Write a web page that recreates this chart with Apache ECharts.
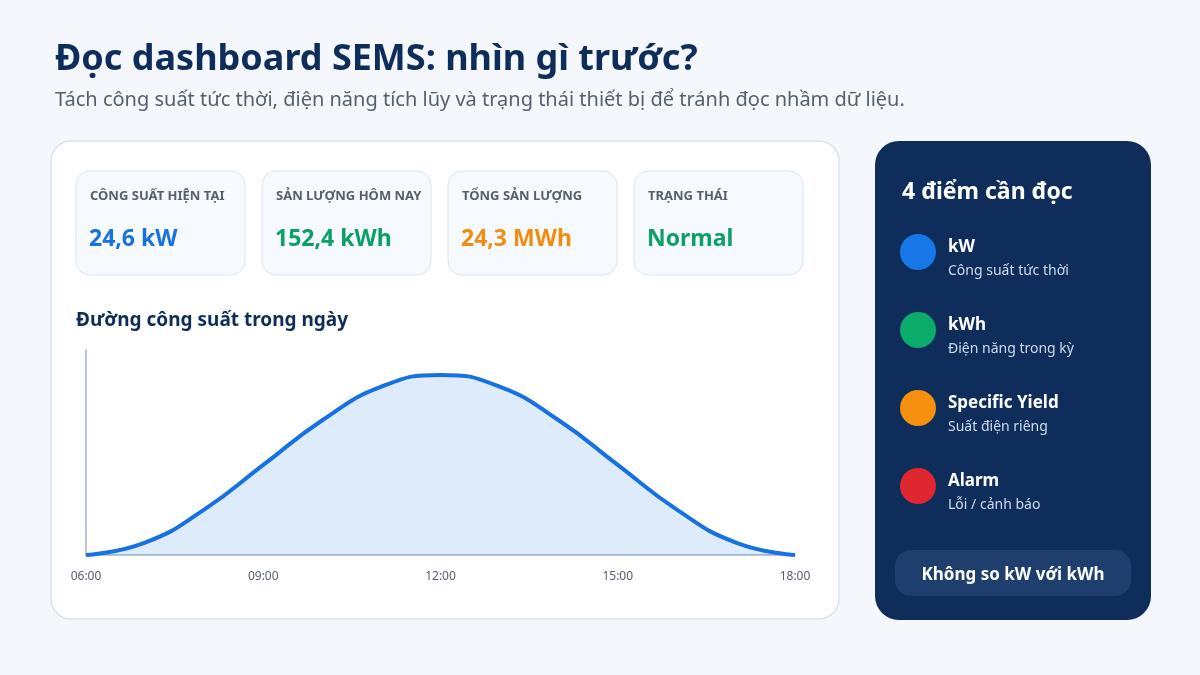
<!DOCTYPE html>
<html><head><meta charset="utf-8">
<script src="https://cdn.jsdelivr.net/npm/echarts@6/dist/echarts.min.js"></script>
<style>html,body{margin:0;padding:0;background:#f4f7fb}#c{width:1200px;height:675px}</style>
</head><body><div id="c"></div>
<script>
const hours = [6,7,8,9,10,11,12,13,14,15,16,17,18];
const power = [0,1.7,6.2,12.3,18.4,23.0,24.6,23.0,18.4,12.3,6.2,1.7,0];
const tickLabels = ['06:00','09:00','12:00','15:00','18:00'];
const statLabels = ['CÔNG SUẤT HIỆN TẠI','SẢN LƯỢNG HÔM NAY','TỔNG SẢN LƯỢNG','TRẠNG THÁI'];
const statValues = ['24,6 kW','152,4 kWh','24,3 MWh','Normal'];
const statColors = ['#1572e0','#0aa066','#f28c0f','#0aa066'];
const legendNames = ['kW','kWh','Specific Yield','Alarm'];
const legendDesc = ['Công suất tức thời','Điện năng trong kỳ','Suất điện riêng','Lỗi / cảnh báo'];
const legendColors = ['#1877e6','#0bab69','#f7900f','#e0262e'];

const F = 'Noto Sans';
const g = [];
g.push({type:'text',left:55,top:42,style:{text:'Đọc dashboard SEMS: nhìn gì trước?',font:'bold 36px "Noto Sans"',fill:'#0f2d5a'}});
g.push({type:'text',left:55,top:90,style:{text:'Tách công suất tức thời, điện năng tích lũy và trạng thái thiết bị để tránh đọc nhầm dữ liệu.',font:'20px "Noto Sans"',fill:'#555f6d'}});
g.push({type:'rect',z:-10,shape:{x:51,y:141,width:788,height:478,r:20},style:{fill:'#fff',stroke:'#d9e3ee',lineWidth:1.5}});
statLabels.forEach((l,i)=>{
  const x=76+i*186;
  g.push({type:'rect',z:-5,shape:{x:x,y:171,width:169,height:104,r:14},style:{fill:'#f6f9fd',stroke:'#dbe5f0',lineWidth:1}});
  g.push({type:'text',x:x+14,y:190,style:{text:l,font:'bold 13px "Noto Sans"',fill:'#555f6d'}});
  g.push({type:'text',x:x+13,y:228,style:{text:statValues[i],font:'bold 23px "Noto Sans"',fill:statColors[i]}});
});
g.push({type:'text',x:76,y:311,style:{text:'Đường công suất trong ngày',font:'bold 19px "Noto Sans"',fill:'#0f2d5a'}});
g.push({type:'rect',z:-10,shape:{x:875,y:141,width:276,height:479,r:24},style:{fill:'#0f2d5a'}});
g.push({type:'text',x:902,y:181,style:{text:'4 điểm cần đọc',font:'bold 23px "Noto Sans"',fill:'#fff'}});
legendNames.forEach((n,i)=>{
  const y=252+i*78;
  g.push({type:'circle',shape:{cx:918,cy:y,r:18},style:{fill:legendColors[i]}});
  g.push({type:'text',x:948,y:y-13,style:{text:n,font:'bold 17px "Noto Sans"',fill:'#fff'}});
  g.push({type:'text',x:948,y:y+12,style:{text:legendDesc[i],font:'14px "Noto Sans"',fill:'#d0dbea'}});
});
g.push({type:'rect',shape:{x:895,y:550,width:236,height:46,r:16},style:{fill:'#1e3f6e'}});
g.push({type:'text',x:1013,y:575,style:{text:'Không so kW với kWh',font:'bold 17px "Noto Sans"',fill:'#fff',align:'center',verticalAlign:'middle'}});

const chart = echarts.init(document.getElementById('c'));
chart.setOption({
  backgroundColor:'#f4f7fb',
  animation:false,
  graphic:g,
  grid:{left:86,right:405,top:350,bottom:120},
  xAxis:{type:'value',min:6,max:18,interval:3,
    axisLine:{show:true,lineStyle:{color:'#9fb4cc',width:1.5}},axisTick:{show:false},splitLine:{show:false},
    axisLabel:{color:'#555f6d',fontSize:12,fontFamily:F,margin:16,formatter:v=>tickLabels[(v-6)/3]}},
  yAxis:{type:'value',min:0,max:28,
    axisLine:{show:true,lineStyle:{color:'#9fb4cc',width:1.5}},axisTick:{show:false},splitLine:{show:false},axisLabel:{show:false}},
  series:[{type:'line',smooth:0.5,symbol:'none',data:hours.map((h,i)=>[h,power[i]]),
    lineStyle:{color:'#1572e0',width:4},areaStyle:{color:'rgba(21,114,224,0.2)'}}]
});
</script></body></html>
